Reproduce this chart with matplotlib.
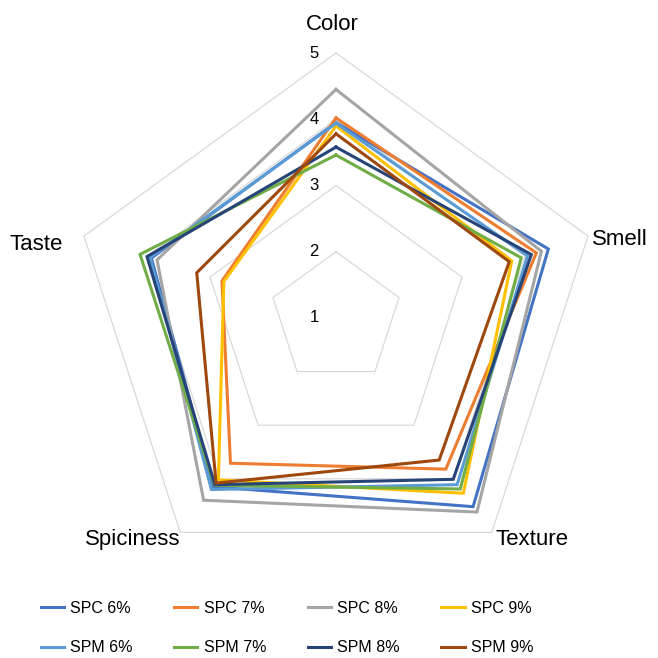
import numpy as np
import matplotlib
matplotlib.use("Agg")
import matplotlib.pyplot as plt

plt.rcParams['font.family'] = ['Liberation Sans', 'DejaVu Sans']

# Sensory scores per attribute (scale 1-5)
categories = ["Color", "Smell", "Texture", "Spiciness", "Taste"]
spc_6 = [3.95, 4.37, 4.52, 4.15, 3.93]
spc_7 = [4.02, 4.18, 3.82, 3.71, 2.81]
spc_8 = [4.45, 4.26, 4.62, 4.40, 3.84]
spc_9 = [3.90, 3.79, 4.27, 4.02, 2.78]
spm_6 = [3.94, 4.04, 4.11, 4.20, 3.95]
spm_7 = [3.46, 3.94, 4.19, 4.12, 4.11]
spm_8 = [3.58, 4.10, 4.01, 4.11, 4.00]
spm_9 = [3.78, 3.75, 3.65, 4.08, 3.21]
levels = [1, 2, 3, 4, 5]

series = [
    ("SPC 6%", spc_6, "#4472C4"),
    ("SPC 7%", spc_7, "#ED7D31"),
    ("SPC 8%", spc_8, "#A5A5A5"),
    ("SPC 9%", spc_9, "#FFC000"),
    ("SPM 6%", spm_6, "#5B9BD5"),
    ("SPM 7%", spm_7, "#70AD47"),
    ("SPM 8%", spm_8, "#264478"),
    ("SPM 9%", spm_9, "#9E480E"),
]

angles = np.linspace(0, 2 * np.pi, len(categories), endpoint=False)
closed = np.append(angles, angles[0])

fig = plt.figure(figsize=(6.58, 6.58), dpi=100)
ax = fig.add_axes([71 / 658, 75 / 658, 530 / 658, 530 / 658], projection="polar")
ax.set_theta_offset(np.pi / 2)
ax.set_theta_direction(-1)
ax.set_ylim(levels[0], levels[-1])
ax.grid(False)
ax.spines["polar"].set_visible(False)
ax.set_xticks([])
ax.set_yticks([])

# pentagon gridlines
for lvl in levels[1:]:
    ax.plot(closed, [lvl] * len(closed), color="#D9D9D9", lw=0.9, clip_on=False, zorder=1)

# value labels left of the vertical axis
for lvl in levels:
    ax.annotate(str(lvl), xy=(0, lvl), xytext=(-22, 0), textcoords="offset pixels",
                ha="center", va="center", fontsize=12)

# category labels around the outer pentagon
offsets = [(-4, 28), (32, -3), (40, -7), (-48, -7), (-48, -8)]
for ang, name, off in zip(angles, categories, offsets):
    ax.annotate(name, xy=(ang, levels[-1]), xytext=off, textcoords="offset pixels",
                ha="center", va="center", fontsize=16, annotation_clip=False)

handles = {}
for name, vals, col in series:
    line, = ax.plot(closed, vals + vals[:1], color=col, lw=2.2, zorder=3,
                    solid_joinstyle="miter")
    handles[name] = line

# legend: SPC row on top, SPM row below
order = []
for pct in ["6%", "7%", "8%", "9%"]:
    order += ["SPC " + pct, "SPM " + pct]
fig.legend([handles[n] for n in order], order, ncol=4, loc="center",
           bbox_to_anchor=(287 / 658, 1 - 628 / 658), frameon=False, fontsize=11.5,
           handlelength=1.45, handletextpad=0.4, columnspacing=2.6, labelspacing=1.55)

fig.savefig("out.png", dpi=100)
